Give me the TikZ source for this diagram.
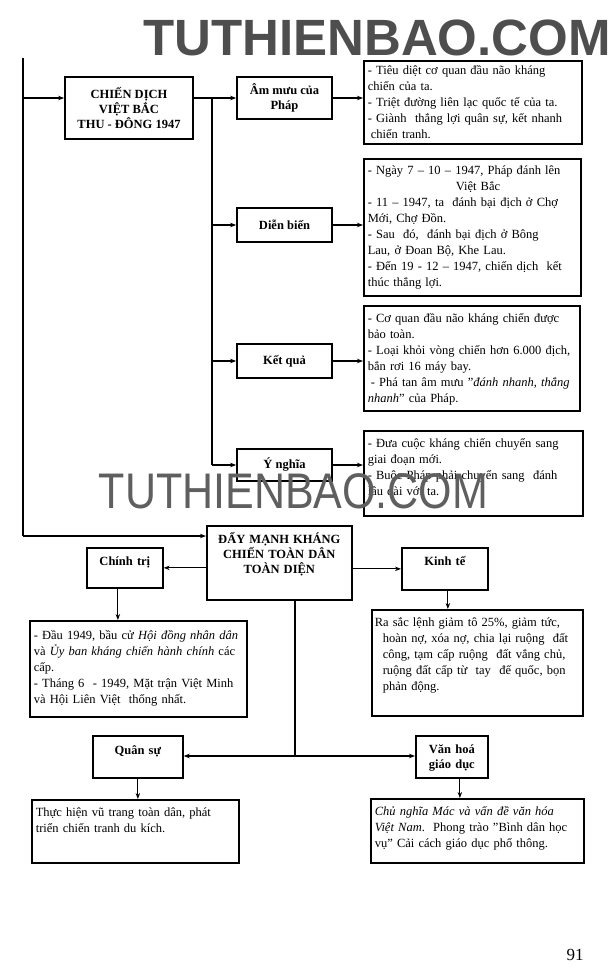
\documentclass[tikz,border=0pt]{standalone}
\usepackage{fontspec}
\setmainfont{Liberation Serif}
\newfontfamily\wmfont{Liberation Sans}
\usetikzlibrary{arrows.meta}
\definecolor{wmA}{RGB}{78,78,78}
\definecolor{wmB}{RGB}{95,95,95}
\begin{document}
\begin{tikzpicture}[x=1pt,y=-1pt,
  lab/.style={draw, line width=1.7pt, inner sep=0pt, align=center,
    font=\bfseries\fontsize{12.5}{15}\selectfont},
  tlab/.style={draw, line width=1.7pt, inner xsep=0pt, inner ysep=3pt, align=center,
    anchor=north west, font=\bfseries\fontsize{12.5}{15}\selectfont},
  tbox/.style={draw, line width=1.6pt, inner xsep=4pt, inner ysep=3pt, text height=11pt,
    align=left, anchor=north west, font=\fontsize{12.5}{16}\selectfont},
  conn/.style={line width=1.1pt},
  arr/.style={conn, -{Stealth[length=6pt,width=4.5pt]}},
]
\useasboundingbox (0,0) rectangle (615,980);
\fill[white] (0,0) rectangle (615,980);

% ---------- upper part ----------
\node[lab, minimum width=128pt, minimum height=62pt] (chien) at (129,108)
  {CHIẾN DỊCH\\VIỆT BẮC\\THU - ĐÔNG 1947};
\node[lab, minimum width=95pt, minimum height=42pt] (ammuu) at (284.5,98) {Âm mưu của\\Pháp};
\node[lab, minimum width=95pt, minimum height=34pt] (dienbien) at (284.5,225) {Diễn biến};
\node[lab, minimum width=95pt, minimum height=34pt] (ketqua) at (284.5,361) {Kết quả};
\node[lab, minimum width=95pt, minimum height=32pt] (ynghia) at (284.5,465) {Ý nghĩa};

\node[tbox, text width=210pt, text depth=66pt] (b1) at (363,60)
  {- Tiêu diệt cơ quan đầu não kháng\\
   chiến của ta.\\
   - Triệt đường liên lạc quốc tế của ta.\\
   - Giành\ \ thắng lợi quân sự, kết nhanh\\
   \hspace*{3pt}chiến tranh.};
\node[tbox, text width=209pt, text height=13pt, text depth=118pt] (b2) at (363,158)
  {- Ngày 7 -- 10 -- 1947, Pháp đánh lên\\
   \hspace*{88pt}Việt Bắc\\
   - 11 -- 1947, ta\ \ đánh bại địch ở Chợ\\
   Mới, Chợ Đồn.\\
   - Sau\ \ đó,\ \ đánh bại địch ở Bông\\
   Lau, ở Đoan Bộ, Khe Lau.\\
   - Đến 19 - 12 -- 1947, chiến dịch\ \ kết\\
   thúc thắng lợi.};
\node[tbox, text width=208pt, text height=14pt, text depth=85pt] (b3) at (363,305)
  {- Cơ quan đầu não kháng chiến được\\
   bảo toàn.\\
   - Loại khỏi vòng chiến hơn 6.000 địch,\\
   bắn rơi 16 máy bay.\\
   \hspace*{3pt}- Phá tan âm mưu "\textit{đánh nhanh, thắng}\\
   \textit{nhanh}" của Pháp.};
\node[tbox, text width=211pt, text height=14pt, text depth=65pt] (b4) at (363,430)
  {- Đưa cuộc kháng chiến chuyển sang\\
   giai đoạn mới.\\
   - Buộc Pháp phải chuyển sang\ \ đánh\\
   lâu dài với ta.};

% trunk and branches
\coordinate (ttop) at (23,58);
\coordinate (tbot) at (23,536);
\coordinate (vtop) at (212,98);
\coordinate (vbot) at (212,465);
\coordinate (cin) at ([yshift=10pt]chien.west);
\coordinate (cout) at ([yshift=10pt]chien.east);
\draw[conn] (ttop) -- (tbot);
\draw[arr] (ttop |- cin) -- (cin);
\draw[conn] (cout) -- (vtop) -- (vbot);
\draw[arr] (vtop |- ammuu.west) -- (ammuu.west);
\draw[arr] (vtop |- dienbien.west) -- (dienbien.west);
\draw[arr] (vtop |- ketqua.west) -- (ketqua.west);
\draw[arr] (vtop |- ynghia.west) -- (ynghia.west);
\draw[arr] (ammuu.east) -- (ammuu.east -| b1.west);
\draw[arr] (dienbien.east) -- (dienbien.east -| b2.west);
\draw[arr] (ketqua.east) -- (ketqua.east -| b3.west);
\draw[arr] (ynghia.east) -- (ynghia.east -| b4.west);

% ---------- lower part ----------
\node[tlab, text width=145pt, text height=15pt, text depth=53pt] (main) at (206,525)
  {ĐẨY MẠNH KHÁNG\\CHIẾN TOÀN DÂN\\TOÀN DIỆN};
\node[tlab, text width=76pt, text height=15pt, text depth=19pt] (chinhtri) at (86,547) {Chính trị};
\node[tlab, text width=86pt, text height=15pt, text depth=21pt] (kinhte) at (401,547) {Kinh tế};
\node[tlab, text width=90pt, text height=16pt, text depth=20pt] (quansu) at (92,735) {Quân sự};
\node[tlab, text width=72pt, text height=15pt, text depth=21pt] (vanhoa) at (415,735) {Văn hoá\\giáo dục};

\node[tbox, text width=209pt, text height=16pt, text depth=74pt] (b5) at (29,620)
  {- Đầu 1949, bầu cử \textit{Hội đồng nhân dân}\\
   và \textit{Ủy ban kháng chiến hành chính} các\\
   cấp.\\
   - Tháng 6\ \ - 1949, Mặt trận Việt Minh\\
   và Hội Liên Việt\ \ thống nhất.};
\node[tbox, inner xsep=3pt, text width=205pt, text height=14pt, text depth=86pt] (b6) at (371,609)
  {Ra sắc lệnh giảm tô 25\%, giảm tức,\\
   \hspace*{8pt}hoàn nợ, xóa nợ, chia lại ruộng\ \ đất\\
   \hspace*{8pt}công, tạm cấp ruộng\ \ đất vắng chủ,\\
   \hspace*{8pt}ruộng đất cấp từ\ \ tay\ \ đế quốc, bọn\\
   \hspace*{8pt}phản động.};
\node[tbox, text width=199pt, text height=14pt, text depth=43pt] (b7) at (31,799)
  {Thực hiện vũ trang toàn dân, phát\\
   triển chiến tranh du kích.};
\node[tbox, text width=205pt, text height=14pt, text depth=44pt] (b8) at (370,798)
  {\textit{Chủ nghĩa Mác và vấn đề văn hóa}\\
   \textit{Việt Nam}.\ \ Phong trào "Bình dân học\\
   vụ" Cải cách giáo dục phổ thông.};

\draw[arr] (tbot) -- (tbot -| main.west);
\draw[arr] (main.west |- chinhtri.east) -- (chinhtri.east);
\draw[arr] (main.east |- kinhte.west) -- (kinhte.west);
\draw[arr] ([xshift=-7pt]chinhtri.south) -- ([xshift=-7pt]chinhtri.south |- b5.north);
\draw[arr] ([xshift=3pt]kinhte.south) -- ([xshift=3pt]kinhte.south |- b6.north);
\coordinate (junc) at (295,756);
\draw[conn] (junc |- main.south) -- (junc);
\draw[arr] (junc) -- (junc -| quansu.east);
\draw[arr] (junc) -- (junc -| vanhoa.west);
\draw[arr] (quansu.south) -- (quansu.south |- b7.north);
\draw[arr] ([xshift=8pt]vanhoa.south) -- ([xshift=8pt]vanhoa.south |- b8.north);

% page number
\node[font=\fontsize{17}{20}\selectfont] (pg) at (575,955) {91};

% watermarks
\node[anchor=base, text=wmA, font=\wmfont\bfseries\fontsize{51}{56}\selectfont, inner sep=0pt]
  (wm1) at (377,55) {TUTHIENBAO.COM};
\node[anchor=base, text=wmB, font=\wmfont\fontsize{50}{56}\selectfont, inner sep=0pt,
  xscale=0.86, transform shape] (wm2) at (293.5,508) {TUTHIENBAO.COM};
\end{tikzpicture}
\end{document}
